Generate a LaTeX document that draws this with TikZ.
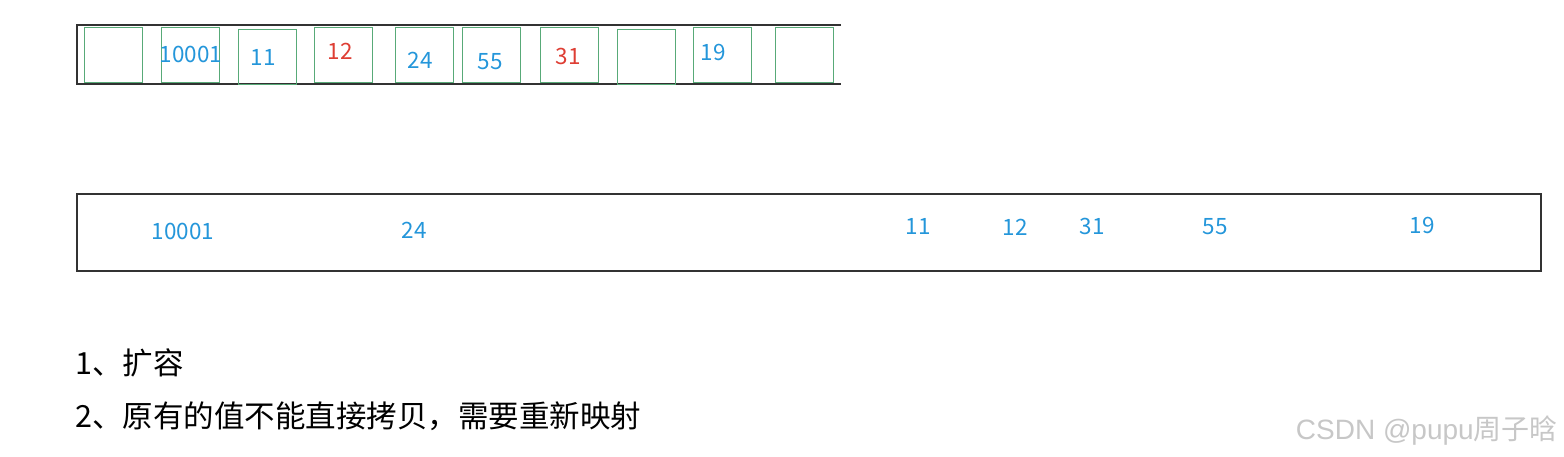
\documentclass[tikz,border=0pt]{standalone}
\usepackage{fontspec}
\setmainfont{Noto Sans CJK SC}
\newfontfamily\markfont{Liberation Sans}
\newfontfamily\cjkfont{Noto Sans CJK SC}
\usepackage{xcolor}
\usetikzlibrary{positioning}
\definecolor{numblue}{RGB}{36,150,218}
\definecolor{numred}{RGB}{222,62,52}
\definecolor{cellgreen}{RGB}{88,170,120}
\definecolor{linegray}{RGB}{50,50,50}

\begin{document}
\begin{tikzpicture}[x=1pt,y=-1pt,
  cell/.style={draw=cellgreen,line width=1pt,minimum width=58pt,minimum height=55pt,inner sep=0pt},
  num/.style={text=numblue,font=\fontsize{22.5}{22.5}\selectfont,inner sep=0pt},
  numr/.style={num,text=numred},
  note/.style={anchor=west,font=\fontsize{30.5}{30.5}\selectfont,inner sep=0pt}]
  \useasboundingbox (0,0) rectangle (1564,457);
  % old table
  \draw[linegray,line width=1.2pt] (841,25)--(77,25)--(77,84)--(841,84);
  \foreach \name/\cx/\cy in {c1/113/55.5,c2/190/55.5,c3/267/57.5,c4/343/55.5,c5/424.5/55.5,
                             c6/491/55.5,c7/569/55.5,c8/646/57,c9/722/55.5,c10/804/55.5}
    \node[cell] (\name) at (\cx,\cy) {};
  \node[num] (o10001) at (191,54) {10001};
  \node[num] (o11) at (263,57) {11};
  \node[numr] (o12) at (340,51) {12};
  \node[num] (o24) at (420,60) {24};
  \node[num] (o55) at (490,62) {55};
  \node[numr] (o31) at (568,56) {31};
  \node[num] (o19) at (713,52) {19};
  % new table
  \draw[linegray,line width=1.2pt] (77,194) rectangle (1541,271);
  \node[num] (n10001) at (183,231) {10001};
  \node[num] (n24) at (414,230) {24};
  \node[num] (n11) at (918,226) {11};
  \node[num] (n12) at (1015,227) {12};
  \node[num] (n31) at (1092,226) {31};
  \node[num] (n55) at (1215,227) {55};
  \node[num] (n19) at (1422,225) {19};
  % notes
  \node[note] (step1) at (75,363) {1、扩容};
  \node[note] (step2) at (75,416) {2、原有的值不能直接拷贝，需要重新映射};
  \node[anchor=east,text=black!22,font=\fontsize{28}{28}\selectfont\markfont,inner sep=0pt] (wm) at (1558,431) {CSDN @pupu{\cjkfont 周子晗}};
\end{tikzpicture}
\end{document}
